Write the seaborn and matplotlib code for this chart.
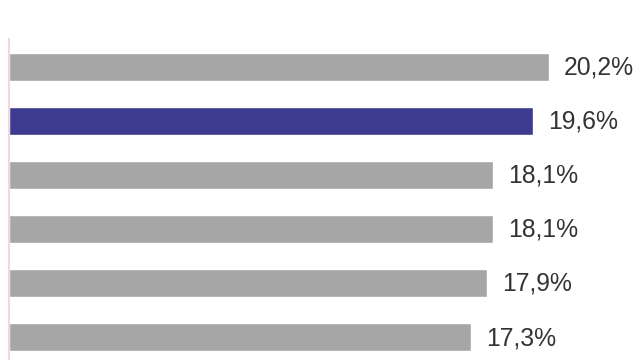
import matplotlib
matplotlib.use("Agg")
import matplotlib.pyplot as plt
import seaborn as sns
import pandas as pd

categories = ["A", "B", "C", "D", "E", "F"]
values = [20.2, 19.6, 18.1, 18.1, 17.9, 17.3]
labels = ["20,2%", "19,6%", "18,1%", "18,1%", "17,9%", "17,3%"]
highlight = "B"

sns.set_theme(style="white")
plt.rcParams['font.family'] = ['Liberation Sans', 'DejaVu Sans']

df = pd.DataFrame({"cat": categories, "val": values})
palette = {c: ("#3d3b8f" if c == highlight else "#a6a6a6") for c in categories}

fig = plt.figure(figsize=(6.4, 3.6), dpi=100)
ax = fig.add_axes([9/640, 0, 631/640, (360-39)/360])
sns.barplot(data=df, y="cat", x="val", hue="cat", palette=palette,
            order=categories, orient="h", width=0.52, legend=False,
            saturation=1, ax=ax)
ax.set_xlim(0, 631/26.73)
ax.set_ylim(5.426, -0.51)
for i, (v, t) in enumerate(zip(values, labels)):
    ax.text(v + 15/26.73, i + 0.02, t, va="center", ha="left", fontsize=17.8, color="#333333")
for s in ["top", "right", "bottom"]:
    ax.spines[s].set_visible(False)
ax.spines["left"].set_color("#f6d6dd")
ax.spines["left"].set_linewidth(1.5)
ax.set_xticks([])
ax.set_yticks([])
ax.set_xlabel("")
ax.set_ylabel("")
fig.savefig("out.png", dpi=100)
